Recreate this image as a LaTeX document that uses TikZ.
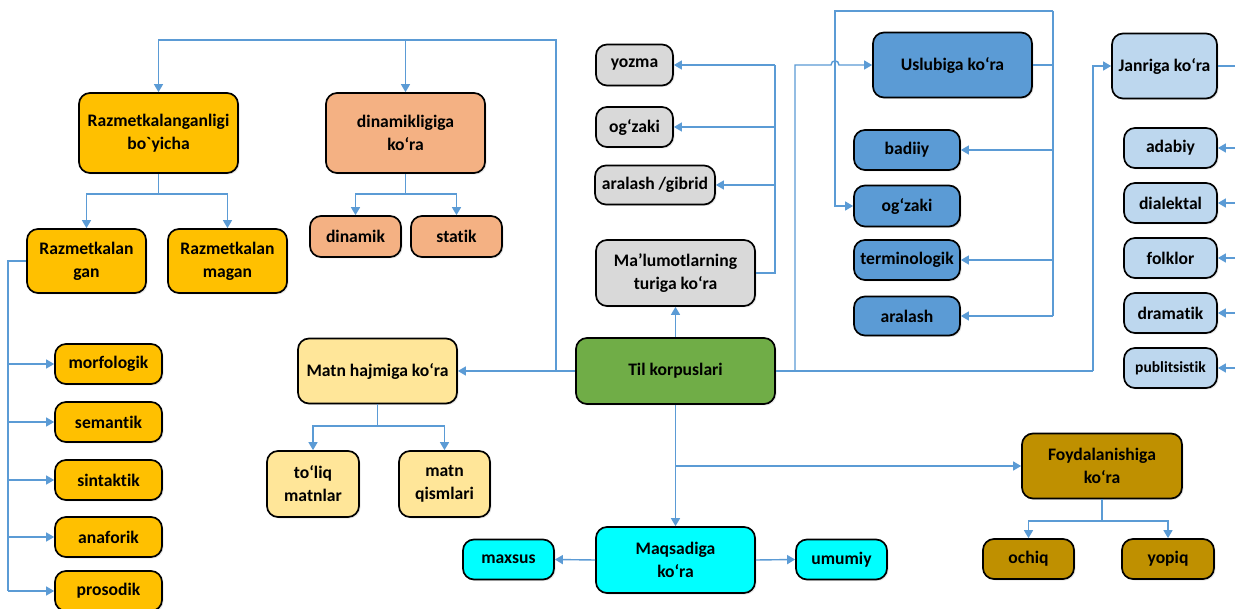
\documentclass[tikz,border=0pt]{standalone}
\usepackage{fontspec}
\setmainfont{Carlito}[RawFeature={-liga}]
\usetikzlibrary{arrows.meta,shadows}
\definecolor{cgold}{HTML}{FFC000}
\definecolor{csalmon}{HTML}{F4B183}
\definecolor{cgray}{HTML}{D9D9D9}
\definecolor{cblue}{HTML}{5B9BD5}
\definecolor{clblue}{HTML}{BDD7EE}
\definecolor{cgreen}{HTML}{70AD47}
\definecolor{cyel}{HTML}{FFE699}
\definecolor{ccyan}{HTML}{00FFFF}
\definecolor{cdgold}{HTML}{BF9000}
\definecolor{cline}{HTML}{5B9BD5}
\tikzset{
  box/.style={draw=black, line width=1.7pt, rounded corners=11pt, align=center,
    inner sep=0pt, font=\fontsize{17.6}{23}\selectfont\bfseries,
    drop shadow={opacity=0.18, shadow xshift=1.5pt, shadow yshift=-1.5pt}},
  bx/.style n args={3}{box, fill=#1, minimum width=#2, minimum height=#3},
  conn/.style={draw=cline, line width=1.4pt},
  arr/.style={conn, -{Triangle[length=8pt,width=9pt]}}
}
\begin{document}
\begin{tikzpicture}[x=1pt,y=-1pt]
\useasboundingbox (0,0) rectangle (1235,609);
\clip (0,0) rectangle (1235,609);
\fill[white] (0,0) rectangle (1235,609);

% ---- nodes ----
\node[bx={cgold}{159pt}{80pt}] (R1) at (158.5,133) {Razmetkalanganligi\\bo\textasciigrave yicha};
\node[bx={cgold}{119pt}{64pt}] (R2) at (86.5,261) {Razmetkalan\\gan};
\node[bx={cgold}{119pt}{64pt}] (R3) at (227.5,261) {Razmetkalan\\magan};
\node[bx={cgold}{107pt}{40pt}] (morf) at (108.5,364) {morfologik};
\node[bx={cgold}{107pt}{40pt}] (sem) at (108.5,422) {semantik};
\node[bx={cgold}{107pt}{40pt}] (sin) at (108.5,480) {sintaktik};
\node[bx={cgold}{107pt}{40pt}] (ana) at (108.5,537) {anaforik};
\node[bx={cgold}{107pt}{40pt}] (pro) at (108.5,591) {prosodik};

\node[bx={csalmon}{159pt}{80pt}] (D1) at (405.5,133) {dinamikligiga\\ko‘ra};
\node[bx={csalmon}{91pt}{41pt}] (din) at (355.5,236.5) {dinamik};
\node[bx={csalmon}{91pt}{41pt}] (sta) at (456.5,236.5) {statik};

\node[bx={cyel}{159pt}{65pt}] (M1) at (377.5,371) {Matn hajmiga ko‘ra};
\node[bx={cyel}{92pt}{66pt}] (tol) at (313,484) {to‘liq\\matnlar};
\node[bx={cyel}{91pt}{66pt}] (qis) at (444.5,484) {matn\\qismlari};

\node[bx={cgreen}{199pt}{66pt}] (Til) at (675.5,371) {Til korpuslari};
\node[bx={cgray}{159pt}{66pt}] (Mal) at (675.5,273) {Ma’lumotlarning\\turiga ko‘ra};
\node[bx={cgray}{77pt}{41pt}] (yoz) at (634.5,65) {yozma};
\node[bx={cgray}{77pt}{40pt}] (ogz) at (634.5,127) {og‘zaki};
\node[bx={cgray}{120pt}{39pt}] (arg) at (655,185) {aralash /gibrid};

\node[bx={cblue}{159pt}{65pt}] (Usl) at (952.5,65) {Uslubiga ko‘ra};
\node[bx={cblue}{106pt}{40pt}] (bad) at (907,150) {badiiy};
\node[bx={cblue}{106pt}{41pt}] (ogb) at (907,206) {og‘zaki};
\node[bx={cblue}{106pt}{40pt}] (ter) at (907,260) {terminologik};
\node[bx={cblue}{106pt}{39pt}] (arl) at (907,316) {aralash};

\node[bx={clblue}{105pt}{65pt}] (Jan) at (1164.5,66) {Janriga ko‘ra};
\node[bx={clblue}{93pt}{40pt}] (ada) at (1170.5,148) {adabiy};
\node[bx={clblue}{93pt}{40pt}] (dia) at (1170.5,203) {dialektal};
\node[bx={clblue}{93pt}{40pt}] (fol) at (1170.5,258) {folklor};
\node[bx={clblue}{93pt}{40pt}] (dra) at (1170.5,313) {dramatik};
\node[bx={clblue}{93pt}{40pt}, font=\fontsize{15.5}{19}\selectfont\bfseries] (pub) at (1170.5,368) {publitsistik};

\node[bx={ccyan}{159pt}{66pt}] (Maq) at (675.5,560) {Maqsadiga\\ko‘ra};
\node[bx={ccyan}{91pt}{40pt}] (max) at (508.5,559.5) {maxsus};
\node[bx={ccyan}{91pt}{40pt}] (umu) at (841.5,559.5) {umumiy};

\node[bx={cdgold}{160pt}{65pt}] (Foy) at (1102,466) {Foydalanishiga\\ko‘ra};
\node[bx={cdgold}{91pt}{40pt}] (och) at (1028.5,559) {ochiq};
\node[bx={cdgold}{92pt}{40pt}] (yop) at (1168,559) {yopiq};

% ---- junction coordinates ----
\coordinate (rj) at (158.5,194);
\coordinate (lb) at (8,261);
\coordinate (dj) at (405.5,194);
\coordinate (mj) at (377.5,426);
\coordinate (tj) at (556,371);
\coordinate (tt) at (556,40);
\coordinate (mb) at (775,273);
\coordinate (ub) at (795,371);
\coordinate (te) at (1093,371);
\coordinate (ur) at (1053,65);
\coordinate (utop) at (1053,11);
\coordinate (ul) at (835,11);
\coordinate (jb) at (1245,66);
\coordinate (bj) at (675.5,466);
\coordinate (fj) at (1102,521);
\coordinate (hopa) at (831,65);
\coordinate (hopb) at (839,65);

% ---- connectors ----
\draw[conn] (R1.south) -- (rj);
\draw[arr] (rj) -| (R2.north);
\draw[arr] (rj) -| (R3.north);
\draw[conn] (R2.west) -- (lb) -- (lb |- pro.west);
\foreach \n in {morf,sem,sin,ana,pro} \draw[arr] (lb |- \n.west) -- (\n.west);

\draw[conn] (D1.south) -- (dj);
\draw[arr] (dj) -| (din.north);
\draw[arr] (dj) -| (sta.north);

\draw[arr] (Til.west) -- (M1.east);
\draw[conn] (M1.south) -- (mj);
\draw[arr] (mj) -| (tol.north);
\draw[arr] (mj) -| (qis.north);

\draw[arr] (tj) -- (tt) -| (R1.north);
\draw[arr] (tt -| D1.north) -- (D1.north);

\draw[arr] (Til.north) -- (Mal.south);
\draw[conn] (Mal.east) -- (mb) -- (mb |- yoz.east);
\draw[arr] (mb |- yoz.east) -- (yoz.east);
\draw[arr] (mb |- ogz.east) -- (ogz.east);
\draw[arr] (mb |- arg.east) -- (arg.east);

\draw[conn] (Til.east) -- (te);
\draw[arr] (ub) -- (ub |- Usl.west) -- (hopa) .. controls (831,59.5) and (839,59.5) .. (hopb) -- (Usl.west);
\draw[arr] (te) -- (te |- Jan.west) -- (Jan.west);

\draw[conn] (Usl.east) -- (ur);
\draw[conn] (utop) -- (utop |- arl.east);
\draw[arr] (ur |- bad.east) -- (bad.east);
\draw[arr] (ur |- ter.east) -- (ter.east);
\draw[arr] (ur |- arl.east) -- (arl.east);
\draw[arr] (utop) -- (ul) -- (ul |- ogb.west) -- (ogb.west);

\draw[conn] (Jan.east) -- (jb) -- (jb |- pub.east);
\foreach \n in {ada,dia,fol,dra,pub} \draw[arr] (jb |- \n.east) -- (\n.east);

\draw[arr] (Til.south) -- (Maq.north);
\draw[arr] (bj) -- (Foy.west);
\draw[arr] (Maq.west) -- (max.east);
\draw[arr] (Maq.east) -- (umu.west);
\draw[conn] (Foy.south) -- (fj);
\draw[arr] (fj) -| (och.north);
\draw[arr] (fj) -| (yop.north);
\end{tikzpicture}
\end{document}
